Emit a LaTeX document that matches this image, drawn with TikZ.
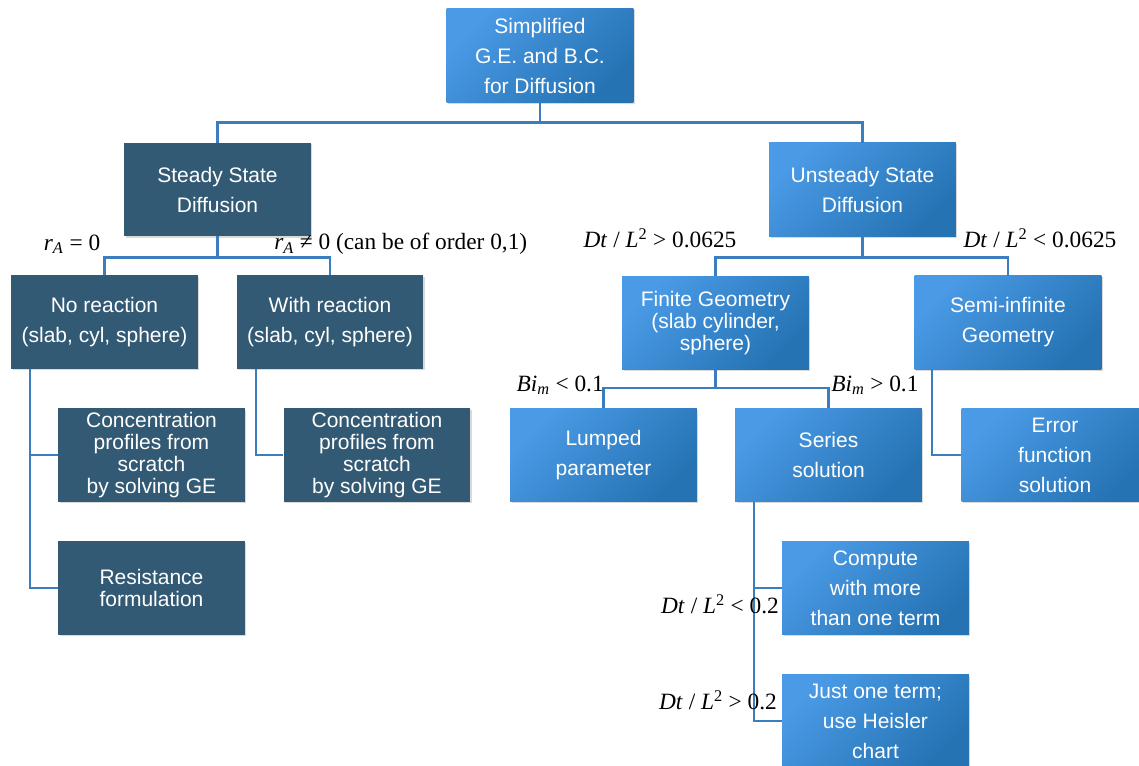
\documentclass[tikz,border=0pt]{standalone}
\usepackage{fontspec}
\setmainfont{Liberation Sans}
\newfontfamily\condfont{Liberation Serif}
\usetikzlibrary{shadows}
\definecolor{slate}{HTML}{335A74}
\definecolor{skyL}{HTML}{4A9AE6}
\definecolor{skyD}{HTML}{2573B3}
\definecolor{wire}{HTML}{3C7DBD}

\begin{document}
\begin{tikzpicture}[x=0.75pt, y=-0.75pt,
  box/.style={minimum width=140pt, minimum height=70pt, inner sep=2pt, align=center,
              text=white, font=\fontsize{15.75}{22.5}\selectfont,
              drop shadow={shadow xshift=1.2pt, shadow yshift=-1.2pt, opacity=0.3}},
  dark/.style={box, fill=slate},
  sky/.style={box, top color=skyL, bottom color=skyD, shading angle=45},
  tight/.style={font=\fontsize{15.75}{16.5}\selectfont},
  link/.style={draw=wire, line width=1.6pt},
  cond/.style={font=\condfont\fontsize{17.5}{19}\selectfont, inner sep=0pt},
]
\useasboundingbox (0,0) rectangle (1139,765);
% root
\node[sky] (ge) at (540,55.5) {Simplified\\G.E. and B.C.\\for Diffusion};
% steady branch
\node[dark] (steady) at (217.5,189.5) {Steady State\\Diffusion};
\node[dark] (norxn) at (104.5,322) {No reaction\\(slab, cyl, sphere)};
\node[dark] (rxn) at (330,322) {With reaction\\(slab, cyl, sphere)};
\node[dark, tight] (conc1) at (151.5,455) {Concentration\\profiles from\\scratch\\by solving GE};
\node[dark, tight] (conc2) at (377,455) {Concentration\\profiles from\\scratch\\by solving GE};
\node[dark, tight] (resist) at (151.5,588) {Resistance\\formulation};
% unsteady branch
\node[sky] (unsteady) at (862.5,189.5) {Unsteady State\\Diffusion};
\node[sky, tight] (finite) at (715.5,323) {Finite Geometry\\(slab cylinder,\\sphere)};
\node[sky] (semi) at (1008,322.5) {Semi-infinite\\Geometry};
\node[sky] (lumped) at (603.5,455) {Lumped\\parameter};
\node[sky] (series) at (828.5,455) {Series\\solution};
\node[sky] (erf) at (1055,455) {Error\\function\\solution};
\node[sky] (multi) at (875.5,588) {Compute\\with more\\than one term};
\node[sky] (single) at (875.5,721) {Just one term;\\use Heisler\\chart};
% connectors
\draw[link] (ge.south) -- ++(0,20) -| (steady.north);
\draw[link] (ge.south) -- ++(0,20) -| (unsteady.north);
\draw[link] (steady.south) -- ++(0,21) -| (norxn.north);
\draw[link] (steady.south) -- ++(0,21) -| (rxn.north);
\draw[link] ([xshift=14pt]norxn.south west) |- (conc1.west);
\draw[link] ([xshift=14pt]norxn.south west) |- (resist.west);
\draw[link] ([xshift=15pt]rxn.south west) |- (conc2.west);
\draw[link] (unsteady.south) -- ++(0,21) -| (finite.north);
\draw[link] (unsteady.south) -- ++(0,21) -| (semi.north);
\draw[link] (finite.south) -- ++(0,18) -| (lumped.north);
\draw[link] (finite.south) -- ++(0,18) -| (series.north);
\draw[link] ([xshift=13.5pt]semi.south west) |- (erf.west);
\draw[link] ([xshift=14pt]series.south west) |- (multi.west);
\draw[link] ([xshift=14pt]series.south west) |- (single.west);
% conditions
\node[cond] (c1) at (72,244) {\textit{r}\textsubscript{\textit{A}}\hspace{0.25em}=\hspace{0.25em}0};
\node[cond, anchor=west] (c2) at (274,244) {\textit{r}\textsubscript{\textit{A}}\hspace{0.25em}≠\hspace{0.25em}0 (can be of order 0,1)};
\node[cond] (c3) at (660,238) {\textit{Dt} / \textit{L}\textsuperscript{2} > 0.0625};
\node[cond] (c4) at (1040,238) {\textit{Dt} / \textit{L}\textsuperscript{2} < 0.0625};
\node[cond, anchor=east] (c5) at (604,385) {\textit{Bi}\textsubscript{\textit{m}} < 0.1};
\node[cond, anchor=west] (c6) at (831,385) {\textit{Bi}\textsubscript{\textit{m}} > 0.1};
\node[cond] (c7) at (720,604) {\textit{Dt} / \textit{L}\textsuperscript{2} < 0.2};
\node[cond] (c8) at (718,700) {\textit{Dt} / \textit{L}\textsuperscript{2} > 0.2};
\end{tikzpicture}
\end{document}
